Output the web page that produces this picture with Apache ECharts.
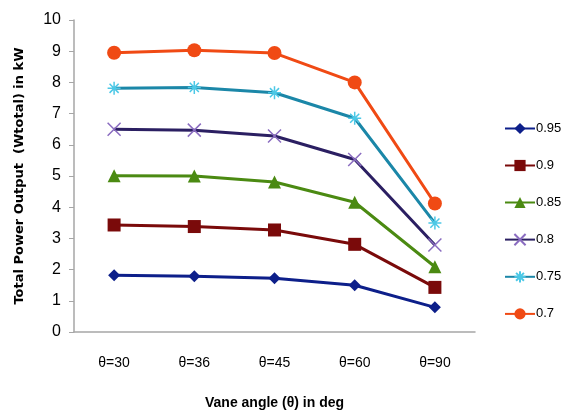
<!DOCTYPE html>
<html>
<head>
<meta charset="utf-8">
<script src="https://cdn.jsdelivr.net/npm/echarts@6/dist/echarts.min.js"></script>
<style>html,body{margin:0;padding:0;background:#fff}#c{width:566px;height:415px}</style>
</head>
<body>
<div id="c"></div>
<script>
const categories = ['θ=30', 'θ=36', 'θ=45', 'θ=60', 'θ=90'];
const seriesNames = ['0.95', '0.9', '0.85', '0.8', '0.75', '0.7'];
const s095 = [1.82, 1.79, 1.72, 1.50, 0.79];
const s090 = [3.43, 3.38, 3.27, 2.81, 1.43];
const s085 = [5.01, 5.00, 4.81, 4.16, 2.09];
const s080 = [6.50, 6.47, 6.28, 5.53, 2.79];
const s075 = [7.81, 7.84, 7.67, 6.85, 3.49];
const s070 = [8.95, 9.03, 8.94, 8.00, 4.12];
const yTicks = [0, 10, 1];

const values = [s095, s090, s085, s080, s075, s070];
const lineColors = ['#0d1f8a', '#7a0a0a', '#4b8a12', '#2b1f62', '#1b87a8', '#f04a14'];
const markerColors = ['#0d1f8a', '#7a0a0a', '#4b8a12', '#8a6cc0', '#4cc8e6', '#f04a14'];
const symbols = [
  'diamond', 'rect', 'triangle',
  'path://M0,0L10,10M10,0L0,10',
  'path://M0,5L10,5M5,0L5,10M1.5,1.5L8.5,8.5M8.5,1.5L1.5,8.5',
  'circle'
];
const sizes = [12, 13, 13, 13, 13, 14];
const strokeSym = [false, false, false, true, true, false];

const chart = echarts.init(document.getElementById('c'));
const font = '"Liberation Sans", Arial, sans-serif';
chart.setOption({
  animation: false,
  textStyle: { fontFamily: font },
  grid: { left: 74, right: 91, top: 20, bottom: 83 },
  legend: {
    orient: 'vertical', left: 499, top: 117,
    itemWidth: 30, itemHeight: 14, itemGap: 24,
    textStyle: { fontSize: 13, color: '#000', fontFamily: font, padding: [0, 0, 0, -4] },
    data: seriesNames
  },
  xAxis: {
    type: 'category', data: categories, boundaryGap: true,
    axisLine: { lineStyle: { color: '#a6a6a6', width: 1.5 } },
    axisTick: { show: false },
    axisLabel: { color: '#000', fontSize: 14, margin: 24 },
    name: 'Vane angle (θ) in deg', nameLocation: 'middle', nameGap: 64,
    nameTextStyle: { color: '#000', fontSize: 14, fontWeight: 'bold', fontFamily: font }
  },
  yAxis: {
    type: 'value', min: yTicks[0], max: yTicks[1], interval: yTicks[2],
    axisLine: { show: true, lineStyle: { color: '#a6a6a6', width: 1.5 } },
    axisTick: { show: true, inside: false, length: 5, lineStyle: { color: '#a6a6a6' } },
    splitLine: { show: false },
    axisLabel: { color: '#000', fontSize: 16, margin: 13 },
    name: 'Total Power Output  (Wtotal) in kW', nameLocation: 'middle', nameGap: 48,
    nameTextStyle: { color: '#000', fontSize: 13, fontWeight: 'bold', fontFamily: '"DejaVu Sans", sans-serif' }
  },
  series: values.map((v, i) => ({
    name: seriesNames[i], type: 'line', data: v,
    symbol: symbols[i], symbolSize: sizes[i],
    lineStyle: { color: lineColors[i], width: 3 },
    itemStyle: strokeSym[i]
      ? { color: markerColors[i], borderColor: markerColors[i], borderWidth: 1.5 }
      : { color: markerColors[i] }
  }))
});
</script>
</body>
</html>
